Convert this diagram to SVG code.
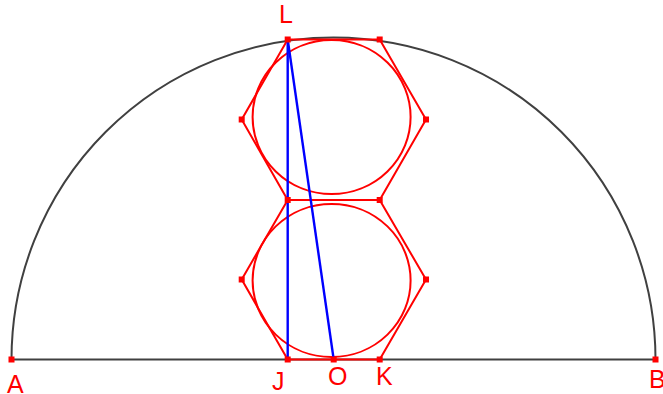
<svg xmlns="http://www.w3.org/2000/svg" width="663" height="394" viewBox="0 0 663 394">
<style>
.arc{fill:none;stroke:#404040;stroke-width:2}
.red{fill:none;stroke:#ff0000;stroke-width:2}
.blue{fill:none;stroke:#0000ff;stroke-width:2.4}
.pt{fill:#ff0000}
.lbl{font-family:"Liberation Sans",Arial,sans-serif;font-size:25px;fill:#ff0000}
</style>
<rect width="663" height="394" fill="#ffffff"/>
<g id="semicircle">
<path class="arc" d="M11.5,359.5 A322,322 0 0 1 655.5,359.5 Z"/>
</g>
<g id="hexagon-top">
<polygon class="red" points="287.7,39.5 379.7,39.5 426,119.5 379.7,200 287.7,200 241.7,119.5"/>
</g>
<g id="hexagon-bottom">
<polygon class="red" points="287.7,200 379.7,200 426,279.5 379.7,359.5 287.7,359.5 241.7,279.5"/>
</g>
<g id="circle-top">
<ellipse class="red" cx="331.6" cy="117" rx="79" ry="77"/>
</g>
<g id="circle-bottom">
<ellipse class="red" cx="331.6" cy="280.5" rx="79" ry="76.5"/>
</g>
<g id="connectors">
<line class="blue" x1="287.7" y1="39.5" x2="287.7" y2="359.5"/>
<line class="blue" x1="287.7" y1="39.5" x2="333.7" y2="359.5"/>
</g>
<g id="vertices">
<rect class="pt" x="238.7" y="116.5" width="6" height="6"/>
<rect class="pt" x="423" y="116.5" width="6" height="6"/>
<rect class="pt" x="238.7" y="276.5" width="6" height="6"/>
<rect class="pt" x="423" y="276.5" width="6" height="6"/>
<rect class="pt" x="284.7" y="197" width="6" height="6"/>
<rect class="pt" x="376.7" y="197" width="6" height="6"/>
<rect class="pt" x="376.7" y="36.5" width="6" height="6"/>
</g>
<g id="A"><rect class="pt" x="8.5" y="356.5" width="6" height="6"/><text class="lbl" x="7" y="393">A</text></g>
<g id="B"><rect class="pt" x="652.5" y="356.5" width="6" height="6"/><text class="lbl" x="649" y="388">B</text></g>
<g id="J"><rect class="pt" x="284.7" y="356.5" width="6" height="6"/><text class="lbl" x="272" y="390">J</text></g>
<g id="O"><rect class="pt" x="330.7" y="356.5" width="6" height="6"/><text class="lbl" x="328" y="385">O</text></g>
<g id="K"><rect class="pt" x="376.7" y="356.5" width="6" height="6"/><text class="lbl" x="376" y="385">K</text></g>
<g id="L"><rect class="pt" x="284.7" y="36.5" width="6" height="6"/><text class="lbl" x="279" y="23">L</text></g>
</svg>
